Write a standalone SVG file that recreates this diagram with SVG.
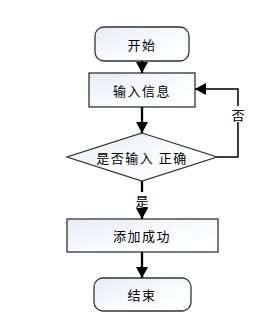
<svg xmlns="http://www.w3.org/2000/svg" width="279" height="329" viewBox="0 0 279 329">
<defs>
<linearGradient id="g" x1="0" y1="0" x2="1" y2="1">
<stop offset="0" stop-color="#e6ecf7"/>
<stop offset="0.6" stop-color="#fbfcfe"/>
<stop offset="1" stop-color="#ffffff"/>
</linearGradient>
<marker id="ah" markerWidth="12" markerHeight="12" refX="11" refY="6" orient="auto" markerUnits="userSpaceOnUse">
<path d="M0,0 L11,6 L0,12 Z" fill="#000"/>
</marker>
</defs>
<style>
.n{fill:url(#g);stroke:#333;stroke-width:1.3}
.t{font-family:"Noto Sans CJK SC","Noto Sans CJK JP",sans-serif;font-size:13px;fill:#000;text-anchor:middle;dominant-baseline:central;letter-spacing:1.5px}
.c{fill:none;stroke:#000;stroke-width:2.3}
.l{font-family:"Noto Sans CJK SC",sans-serif;font-size:13px;fill:#000;text-anchor:middle;dominant-baseline:central}
</style>
<rect width="279" height="329" fill="#fff"/>
<g id="start"><rect class="n" x="95" y="27" width="94" height="34" rx="9"/><text class="t" x="142" y="44">开始</text></g>
<g id="input"><rect class="n" x="89" y="73" width="106" height="34"/><text class="t" x="142" y="90">输入信息</text></g>
<g id="check"><polygon class="n" points="142,133 217,157 142,181 67,157"/><text class="t" x="142" y="157">是否输入 正确</text></g>
<g id="success"><rect class="n" x="67" y="219" width="151" height="33"/><text class="t" x="142" y="235.5">添加成功</text></g>
<g id="end"><rect class="n" x="94" y="278" width="97" height="33" rx="9"/><text class="t" x="142" y="294.5">结束</text></g>
<g id="connectors">
<line class="c" x1="142" y1="61" x2="142" y2="73" marker-end="url(#ah)"/>
<line class="c" x1="142" y1="107" x2="142" y2="133" marker-end="url(#ah)"/>
<line class="c" x1="142" y1="181" x2="142" y2="219" marker-end="url(#ah)"/>
<line class="c" x1="142" y1="252" x2="142" y2="278" marker-end="url(#ah)"/>
<polyline class="c" style="stroke-width:1.5" points="217,157 238,157 238,89 195,89" marker-end="url(#ah)"/>
<rect x="231" y="106" width="14" height="16" fill="#fff"/>
<text class="l" x="238" y="114">否</text>
<rect x="135" y="192" width="14" height="16" fill="#fff"/>
<text class="l" x="142" y="200">是</text>
</g>
</svg>
